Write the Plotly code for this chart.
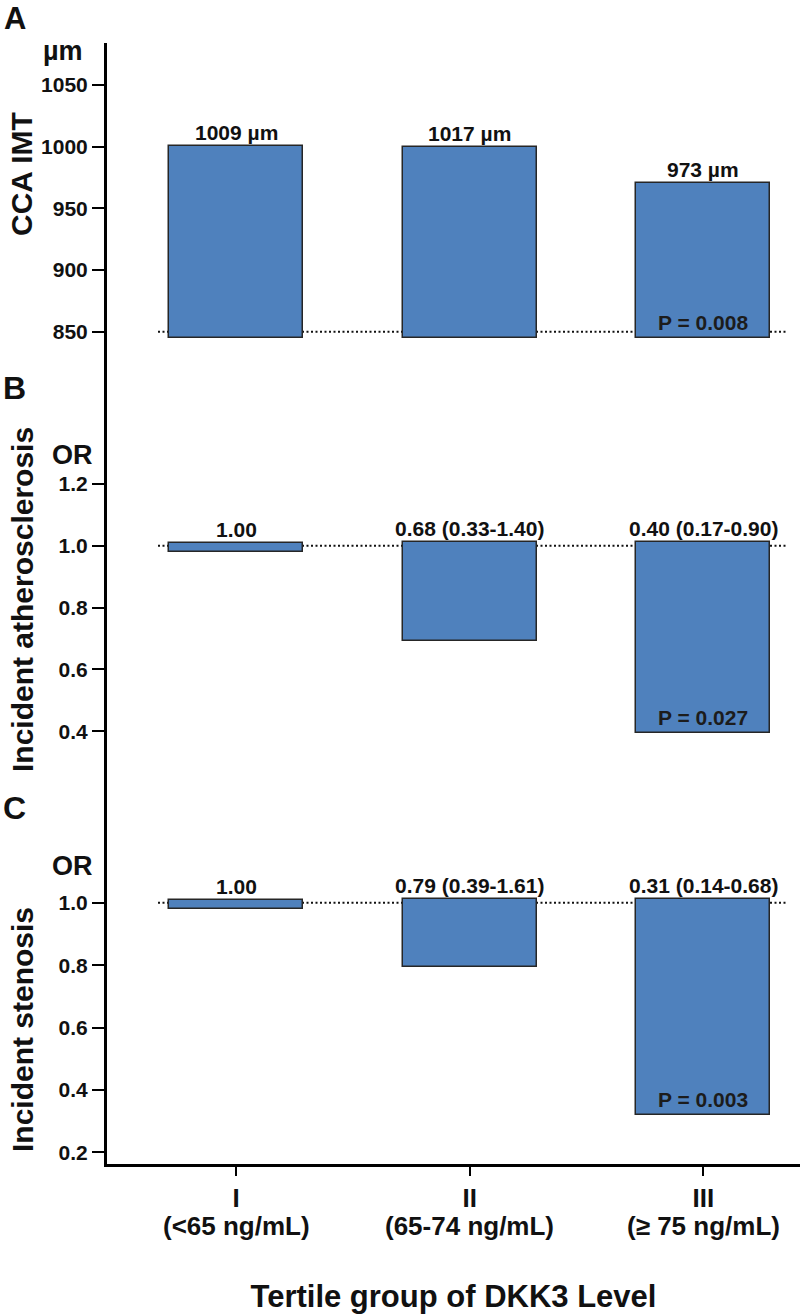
import plotly.graph_objects as go

# ---------------- data ----------------
categories = ["I", "II", "III"]
category_ranges = ["(&lt;65 ng/mL)", "(65-74 ng/mL)", "(≥ 75 ng/mL)"]

imt_labels = ["1009 µm", "1017 µm", "973 µm"]
imt_bar_top = [1000.5, 999.8, 970.3]
imt_bar_bottom = [845.1, 845.1, 845.1]
imt_ref = 850
imt_ticks = [850, 900, 950, 1000, 1050]

ath_labels = ["1.00", "0.68 (0.33-1.40)", "0.40 (0.17-0.90)"]
ath_bar_top = [1.008, 1.011, 1.011]
ath_bar_bottom = [0.978, 0.692, 0.393]
ath_ticks = [0.4, 0.6, 0.8, 1.0, 1.2]

sten_labels = ["1.00", "0.79 (0.39-1.61)", "0.31 (0.14-0.68)"]
sten_bar_top = [1.008, 1.011, 1.011]
sten_bar_bottom = [0.980, 0.795, 0.318]
sten_ticks = [0.2, 0.4, 0.6, 0.8, 1.0]

or_ref = 1.0
p_labels = ["P = 0.008", "P = 0.027", "P = 0.003"]

# ---------------- layout helpers ----------------
W_FIG, H_FIG = 800, 1315
L, R, T, B = 107, 800, 43, 1164
PW, PH = R - L, B - T


def px(x):
    return (x - L) / PW


def py(y):
    return (B - y) / PH


FONT = "Liberation Sans, Arial, sans-serif"
BAR_FILL = "#4F81BD"
BAR_EDGE = "#262626"
INK = "#111111"

xpos = list(range(1, len(categories) + 1))
bar_width = 0.574

panels = [
    dict(yaxis="y", top=imt_bar_top, bottom=imt_bar_bottom, labels=imt_labels, ref=imt_ref),
    dict(yaxis="y2", top=ath_bar_top, bottom=ath_bar_bottom, labels=ath_labels, ref=or_ref),
    dict(yaxis="y3", top=sten_bar_top, bottom=sten_bar_bottom, labels=sten_labels, ref=or_ref),
]

fig = go.Figure()
annotations = []
shapes = []

for i, p in enumerate(panels):
    fig.add_trace(go.Bar(
        x=xpos,
        base=p["bottom"],
        y=[t - b for t, b in zip(p["top"], p["bottom"])],
        width=bar_width,
        marker=dict(color=BAR_FILL, line=dict(color=BAR_EDGE, width=1.5)),
        xaxis="x", yaxis=p["yaxis"],
        showlegend=False, hoverinfo="skip",
    ))
    for xv, lab, top in zip(xpos, p["labels"], p["top"]):
        annotations.append(dict(
            x=xv, y=top, xref="x", yref=p["yaxis"], text=lab, showarrow=False,
            yanchor="bottom", yshift=0,
            font=dict(family=FONT, size=21, color=INK, weight="bold"),
        ))
    # P value inside the last bar
    annotations.append(dict(
        x=xpos[-1], y=p["bottom"][-1], xref="x", yref=p["yaxis"], text=p_labels[i],
        showarrow=False, yanchor="bottom", yshift=2,
        font=dict(family=FONT, size=21, color="#1c1c1c", weight="bold"),
    ))
    shapes.append(dict(
        type="line", xref="paper", yref=p["yaxis"], x0=px(158), x1=px(788),
        y0=p["ref"], y1=p["ref"], layer="below",
        line=dict(color="#111111", width=2, dash="2px,2.5px"),
    ))

# concentration ranges under the roman-numeral tick labels
for xv, rng in zip(xpos, category_ranges):
    annotations.append(dict(
        x=xv, y=py(1226), xref="x", yref="paper", text=rng, showarrow=False,
        xanchor="center", yanchor="middle",
        font=dict(family=FONT, size=26, color=INK, weight="bold"),
    ))

# panel letters / units / axis titles
text_items = [
    ("A", 15, 18, 31, 0),
    ("B", 14, 388, 32, 0),
    ("C", 14, 808, 32, 0),
    ("µm", 63, 51, 27, 0),
    ("OR", 72, 455, 27, 0),
    ("OR", 72, 866, 27, 0),
    ("CCA IMT", 21, 174, 30, -90),
    ("Incident atherosclerosis", 22, 600, 30, -90),
    ("Incident stenosis", 22, 1030, 30, -90),
]
for txt, x, y, size, ang in text_items:
    annotations.append(dict(
        x=px(x), y=py(y), xref="paper", yref="paper", text=txt, showarrow=False,
        xanchor="center", yanchor="middle", textangle=ang,
        font=dict(family=FONT, size=size, color=INK, weight="bold"),
    ))

axis_common = dict(
    showline=True, linewidth=3, linecolor="black",
    ticks="outside", ticklen=12, tickwidth=1.8, tickcolor="black",
    showgrid=False, zeroline=False, anchor="x", automargin=False,
    tickfont=dict(family=FONT, size=21, color=INK, weight="bold"),
)

fig.update_layout(
    template="none",
    width=W_FIG, height=H_FIG,
    margin=dict(l=L, r=W_FIG - R, t=T, b=H_FIG - B, autoexpand=False),
    plot_bgcolor="white", paper_bgcolor="white",
    font=dict(family=FONT, color=INK),
    bargap=0,
    xaxis=dict(
        anchor="y3", range=[0.4469, 3.4135], automargin=False,
        tickvals=xpos, ticktext=categories,
        showline=True, linewidth=3, linecolor="black",
        ticks="outside", ticklen=9, tickwidth=1.5, tickcolor="black",
        showgrid=False, zeroline=False,
        tickfont=dict(family=FONT, size=26, color=INK, weight="bold"),
        title=dict(text="Tertile group of DKK3 Level", standoff=74,
                   font=dict(family=FONT, size=31, color=INK, weight="bold")),
    ),
    yaxis=dict(domain=[py(350), 1.0], range=[835.2, 1084.1], tickvals=imt_ticks, **axis_common),
    yaxis2=dict(domain=[py(760), py(350)], range=[0.307, 1.6325], tickvals=ath_ticks,
                tickformat=".1f", **axis_common),
    yaxis3=dict(domain=[0.0, py(760)], range=[0.162, 1.4585], tickvals=sten_ticks,
                tickformat=".1f", **axis_common),
    annotations=annotations,
    shapes=shapes,
)

fig.write_html(
    "out.html",
    config={"displayModeBar": False},
    post_script="document.body.style.margin='0';document.body.style.padding='0';",
)
